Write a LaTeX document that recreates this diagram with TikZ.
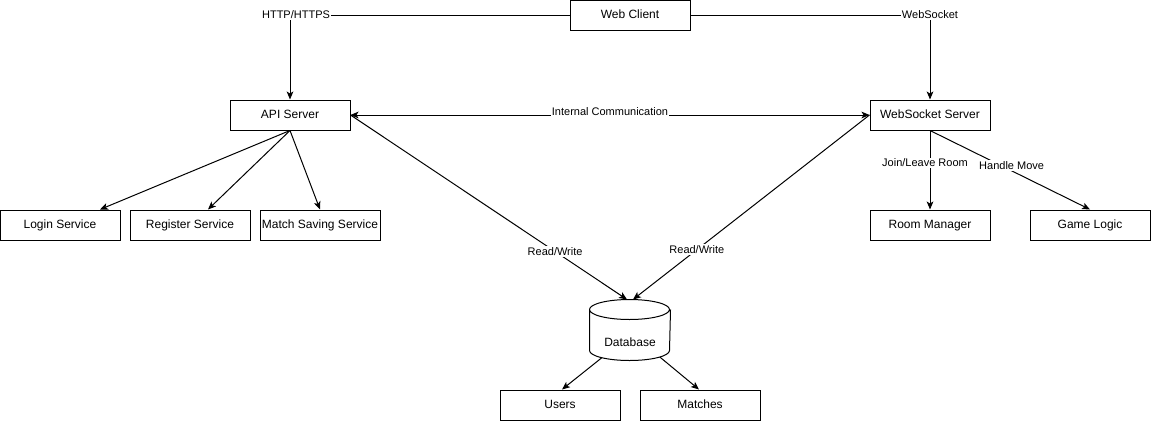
\documentclass[tikz,border=0pt]{standalone}
\usepackage{fontspec}
\setmainfont{Liberation Sans}
\usetikzlibrary{arrows.meta}
\begin{document}
\begin{tikzpicture}[
    x=0.75pt, y=-0.75pt,
    line width=0.75pt,
    >={Stealth[length=6pt,width=5pt,inset=1.5pt]},
    every node/.style={
    font=\fontsize{9}{11}\selectfont},
    box/.style={draw, minimum width=90pt, minimum height=22.5pt, inner sep=0pt, text height=6.5pt, text depth=2pt},
    dbbox/.style={minimum width=60pt, minimum height=45pt, inner sep=0pt},
    rim/.style={x radius=30pt, y radius=7.5pt},
    lbl/.style={fill=white, inner sep=1pt, font=\fontsize{8.25}{10}\selectfont}]

    \useasboundingbox (0,0) rectangle (1151,421);

    \node[box] (client) at (630,15) {Web Client};
    \node[box] (api) at (290,115) {API Server};
    \node[box] (ws) at (930,115) {WebSocket Server};
    \node[box] (login) at (60,225) {Login Service};
    \node[box] (register) at (190,225) {Register Service};
    \node[box] (saving) at (320,225) {Match Saving Service};
    \node[box] (room) at (930,225) {Room Manager};
    \node[box] (logic) at (1090,225) {Game Logic};
    \node[box] (users) at (560,405) {Users};
    \node[box] (matches) at (700,405) {Matches};

    % database cylinder
    \node[dbbox] (db) at (630,330) {};
    \draw ([yshift=-7.5pt]db.north west)
        arc[start angle=180, end angle=360, rim]
        arc[start angle=0, end angle=180, rim]
        -- ([yshift=7.5pt]db.south west)
        arc[start angle=180, end angle=360, rim]
        -- ([yshift=-7.5pt]db.north east);
    \node (dbname) at ([yshift=-9pt]db.center) {Database};

    \draw[->] (client.west) -| node[lbl, pos=0.5, xshift=4.5pt] {HTTP/HTTPS} (api.north);
    \draw[->] (client.east) -| node[lbl, pos=0.5] {WebSocket} (ws.north);
    \draw[<->] (api.east) -- node[lbl, yshift=2.25pt] {Internal Communication} (ws.west);

    \draw[->] (api.south) -- ([xshift=30pt]login.north);
    \draw[->] (api.south) -- ([xshift=13.5pt]register.north);
    \draw[->] (api.south) -- (saving.north);

    \draw[->] (ws.south) -- node[lbl, pos=0.41, xshift=-3.75pt] {Join/Leave Room} (room.north);
    \draw[->] (ws.south) -- node[lbl, pos=0.51, yshift=3.75pt] {Handle Move} (logic.north);

    \draw[->] (api.east) -- node[lbl, pos=0.74] {Read/Write} ([xshift=-2.25pt]db.north);
    \draw[->] (ws.west) -- node[lbl, pos=0.73] {Read/Write} ([xshift=2.25pt]db.north);

    \draw[->] ([xshift=-21pt,yshift=2.2pt]db.south) -- ([xshift=1.5pt]users.north);
    \draw[->] ([xshift=22.5pt,yshift=2.5pt]db.south) -- ([xshift=-0.75pt]matches.north);
\end{tikzpicture}
\end{document}
